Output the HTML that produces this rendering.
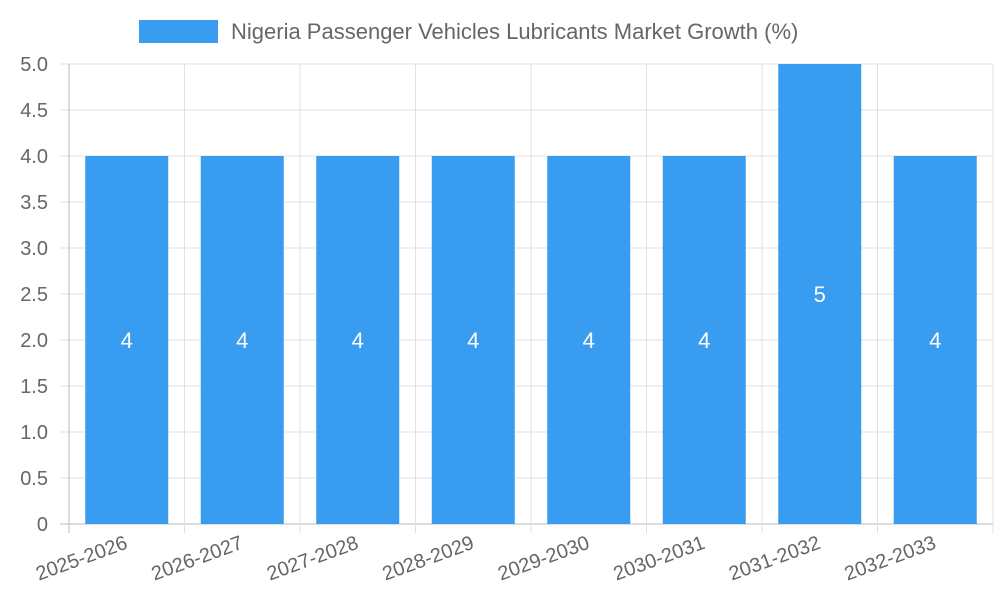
<!DOCTYPE html>
<html><head><meta charset="utf-8"><style>
body{margin:0;background:#fff;}
svg{display:block;font-family:"Liberation Sans",sans-serif;}
</style></head><body>
<svg id="chart" width="1000" height="600">
<g>
<rect x="139" y="20" width="79" height="23" fill="#389cf0"/>
<text x="231" y="39" font-size="22" fill="#666">Nigeria Passenger Vehicles Lubricants Market Growth (%)</text>
</g>
<g id="grid"></g><g id="bars"></g><g id="axes"></g>
</svg>
<script>
const categories=["2025-2026","2026-2027","2027-2028","2028-2029","2029-2030","2030-2031","2031-2032","2032-2033"];
const values=[4,4,4,4,4,4,5,4];
const yTicks=[0,0.5,1,1.5,2,2.5,3,3.5,4,4.5,5];
const yTickLabels=["0","0.5","1.0","1.5","2.0","2.5","3.0","3.5","4.0","4.5","5.0"];
const X0=69,X1=993,Y0=524,Y1=64,yMax=5;
const NS="http://www.w3.org/2000/svg";
const bw=(X1-X0)/categories.length;
const y=v=>Y0-(v/yMax)*(Y0-Y1);
const x=i=>X0+i*bw;
function mk(tag,attrs,parent){const e=document.createElementNS(NS,tag);for(const k in attrs)e.setAttribute(k,attrs[k]);document.getElementById(parent).appendChild(e);return e;}
yTicks.forEach((t,i)=>{
 const g=mk("line",{x1:60,x2:X1,y1:y(t),y2:y(t),stroke:i==0?"#bbb":"#e0e0e0","stroke-width":1},"grid");
 
 
 const l=mk("text",{x:48,y:y(t)+7,"text-anchor":"end","font-size":20,fill:"#666"},"axes");
 l.textContent=yTickLabels[i];
 
 
});
for(let i=0;i<=categories.length;i++){
 const g=mk("line",{x1:x(i),x2:x(i),y1:Y1,y2:533,stroke:i==0?"#bbb":"#e0e0e0","stroke-width":1},"grid");
 
 
}
categories.forEach((c,i)=>{
 const cx=x(i)+bw/2,w=83;
 const r=mk("rect",{x:cx-w/2,y:y(values[i]),width:w,height:Y0-y(values[i]),fill:"#389cf0"},"bars");
 
 
 const t=mk("text",{x:cx,y:(y(values[i])+Y0)/2+8,"text-anchor":"middle","font-size":22,fill:"#fff"},"bars");
 t.textContent=values[i];
 
 
 const l=mk("text",{x:cx+2,y:548,"text-anchor":"end","font-size":20,fill:"#666",transform:`rotate(-20 ${cx+2} 548)`},"axes");
 l.textContent=c;
 
 
});
</script>
</body></html>
